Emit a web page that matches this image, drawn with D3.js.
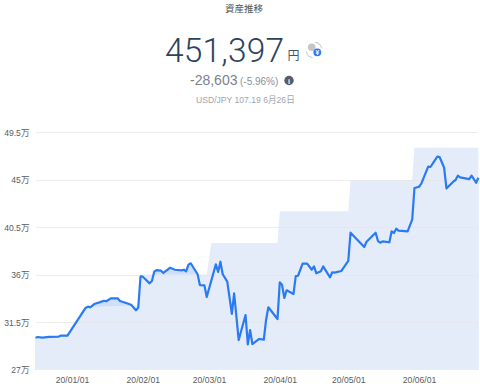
<!DOCTYPE html>
<html lang="ja">
<head>
<meta charset="utf-8">
<style>
html,body{margin:0;padding:0;background:#fff;width:480px;height:391px;overflow:hidden}
svg{display:block}
text{font-family:"Liberation Sans","Noto Sans CJK JP",sans-serif}
</style>
<script src="https://cdnjs.cloudflare.com/ajax/libs/d3/7.8.5/d3.min.js"></script>
</head>
<body>
<svg id="c" width="480" height="391"></svg>
<script>
const lineDates = ["2019-12-16","2019-12-17","2019-12-19","2019-12-22","2019-12-26","2019-12-27","2019-12-30","2020-01-07","2020-01-08","2020-01-09","2020-01-11","2020-01-13","2020-01-15","2020-01-16","2020-01-18","2020-01-21","2020-01-22","2020-01-23","2020-01-26","2020-01-27","2020-01-29","2020-01-30","2020-01-31","2020-02-01","2020-02-04","2020-02-05","2020-02-06","2020-02-07","2020-02-09","2020-02-10","2020-02-13","2020-02-15","2020-02-18","2020-02-19","2020-02-20","2020-02-21","2020-02-22","2020-02-25","2020-02-26","2020-02-28","2020-02-29","2020-03-04","2020-03-05","2020-03-06","2020-03-07","2020-03-09","2020-03-11","2020-03-12","2020-03-14","2020-03-17","2020-03-18","2020-03-19","2020-03-20","2020-03-23","2020-03-25","2020-03-26","2020-03-27","2020-03-31","2020-04-01","2020-04-02","2020-04-03","2020-04-04","2020-04-07","2020-04-08","2020-04-09","2020-04-11","2020-04-13","2020-04-15","2020-04-16","2020-04-17","2020-04-19","2020-04-20","2020-04-23","2020-04-24","2020-04-25","2020-04-28","2020-05-01","2020-05-02","2020-05-08","2020-05-09","2020-05-13","2020-05-14","2020-05-15","2020-05-16","2020-05-19","2020-05-20","2020-05-21","2020-05-22","2020-05-23","2020-05-27","2020-05-29","2020-05-30","2020-06-01","2020-06-02","2020-06-05","2020-06-06","2020-06-09","2020-06-10","2020-06-12","2020-06-13","2020-06-16","2020-06-17","2020-06-18","2020-06-19","2020-06-23","2020-06-24","2020-06-26","2020-06-27"];
const lineValues = [30.06,30.13,30.06,30.13,30.15,30.25,30.25,32.90,33.00,32.94,33.28,33.41,33.56,33.51,33.79,33.79,33.54,33.47,33.25,33.16,32.66,32.90,35.88,35.84,35.21,35.43,36.31,36.47,36.41,36.19,36.69,36.50,36.44,36.50,36.35,36.98,37.11,36.07,35.05,35.02,33.92,37.01,36.28,37.26,36.07,35.37,32.31,34.27,29.84,32.21,29.43,30.79,29.46,29.94,29.87,31.74,32.94,31.83,35.31,35.05,33.82,34.55,34.20,35.90,35.93,37.07,37.07,36.50,36.82,36.16,36.35,36.82,35.78,36.26,36.22,36.38,37.33,40.01,38.65,39.15,40.01,39.22,39.06,39.19,39.10,40.14,39.98,40.39,40.20,40.14,41.24,44.24,44.36,44.65,46.26,46.23,47.21,47.18,46.16,44.21,44.84,45.00,45.41,45.25,45.09,45.41,44.74,45.22];
const depositDates = ["2019-12-16","2019-12-30","2020-01-08","2020-01-30","2020-01-31","2020-02-29","2020-03-02","2020-03-31","2020-04-01","2020-05-01","2020-05-02","2020-05-29","2020-05-30","2020-06-27"];
const depositValues = [30.0,30.2,33.0,33.1,36.05,36.05,39.03,39.03,42.05,42.05,45.0,45.0,48.05,48.05];
const yTicks = [27,31.5,36,40.5,45,49.5];
const xTicks = ["2020-01-01","2020-02-01","2020-03-01","2020-04-01","2020-05-01","2020-06-01"];
const titleText = "資産推移";
const totalText = "451,397";
const unitText = "円";
const changeText = "-28,603";
const changePctText = "(-5.96%)";
const rateText = "USD/JPY 107.19 6月26日";

const parse = d3.timeParse("%Y-%m-%d");
const svg = d3.select("#c");
const x = d3.scaleTime().domain([parse("2019-12-16"), parse("2020-06-27")]).range([35.5, 478.4]);
const y = d3.scaleLinear().domain([27, 49.5]).range([370, 132.5]);

const lineData = lineDates.map((d,i)=>({date:parse(d),v:lineValues[i]}));
const depData = depositDates.map((d,i)=>({date:parse(d),v:depositValues[i]}));
const areaGen = d3.area().x(d=>x(d.date)).y0(y(27)).y1(d=>y(d.v));

svg.append("path").datum(lineData).attr("d",areaGen).attr("fill","#cfdff8");
svg.append("path").datum(depData).attr("d",areaGen).attr("fill","#e4ecf9");

// grid + y axis
const yAxis = d3.axisLeft(y).tickValues(yTicks).tickFormat(d=>d+"万").tickSize(0).tickPadding(0);
const gy = svg.append("g").attr("transform","translate(29.5,0)").call(yAxis);
gy.select(".domain").remove();
gy.selectAll("text").attr("fill","#5c5c5c").attr("font-size",8.6);
svg.append("g").selectAll("line").data(yTicks.filter(t=>t>27)).join("line")
  .attr("x1",36).attr("x2",478).attr("y1",d=>Math.floor(y(d))+.5).attr("y2",d=>Math.floor(y(d))+.5)
  .attr("stroke","#e6e6e6").attr("stroke-opacity",.75).attr("stroke-width",1);

// x axis
const xAxis = d3.axisBottom(x).tickValues(xTicks.map(parse)).tickFormat(d3.timeFormat("%y/%m/%d")).tickSize(0).tickPadding(0);
const gx = svg.append("g").attr("transform","translate(0,377)").call(xAxis);
gx.select(".domain").remove();
gx.selectAll("text").attr("fill","#5c5c5c").attr("font-size",8.6);

// line
svg.append("path").datum(lineData)
  .attr("d",d3.line().x(d=>x(d.date)).y(d=>y(d.v)))
  .attr("fill","none").attr("stroke","#2a7af3").attr("stroke-width",2.2).attr("stroke-linejoin","round");

// header
const T=(s,px,py,size,fill,anchor,extra)=>{
  const t=svg.append("text").text(s).attr("x",px).attr("y",py).attr("font-size",size).attr("fill",fill).attr("text-anchor",anchor||"start");
  if(extra) extra(t); return t;};
T(titleText,244,11.5,9.5,"#555","middle");
T(totalText,165,62,33.5,"#2c435c","start",t=>t.style("font-family","Roboto,sans-serif").attr("font-weight",300).style("letter-spacing","0.2px"));
T(unitText,287.5,59.5,12,"#44566a");
T(changeText,190,85,14,"#7a828e");
T(changePctText,240,85,10,"#8a919c");
svg.append("circle").attr("cx",289).attr("cy",80.5).attr("r",4.7).attr("fill","#565c68");
T("i",289,83.5,7.5,"#fff","middle",t=>t.attr("font-weight",700));
T(rateText,196,103,8.6,"#a0a5ad");

// currency icon
svg.append("circle").attr("cx",311.7).attr("cy",47.3).attr("r",3.8).attr("fill","#c4c6ca");
svg.append("path").attr("d",d3.arc()({innerRadius:7.4,outerRadius:8.4,startAngle:0.1,endAngle:1.3})).attr("transform","translate(314,50)").attr("fill","#c9cbcf");
svg.append("path").attr("d",d3.arc()({innerRadius:7.4,outerRadius:8.4,startAngle:3.3,endAngle:4.5})).attr("transform","translate(314,50)").attr("fill","#c9cbcf");
svg.append("circle").attr("cx",317.3).attr("cy",52.3).attr("r",3.9).attr("fill","#2a7af3");
T("¥",317.3,54.6,6.5,"#fff","middle",t=>t.attr("font-weight",700));
</script>
</body>
</html>
